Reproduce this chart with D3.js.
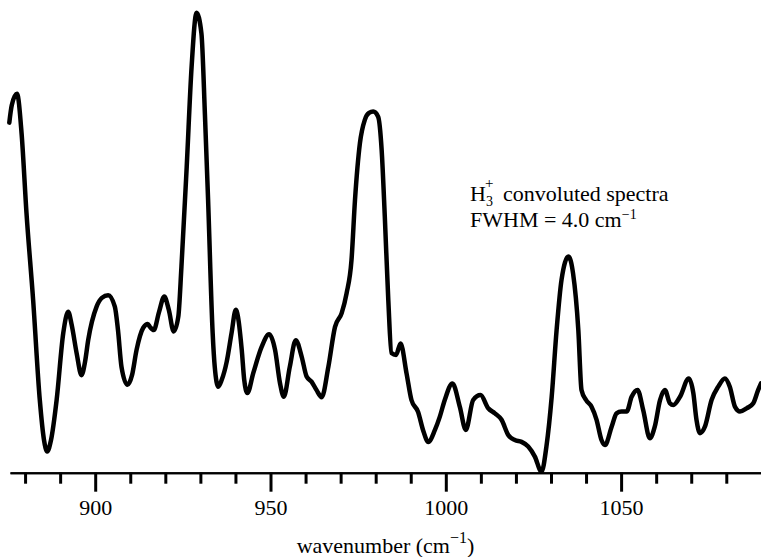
<!DOCTYPE html>
<html>
<head>
<meta charset="utf-8">
<script src="https://cdn.jsdelivr.net/npm/d3@7"></script>
<style>
  html, body { margin: 0; padding: 0; background: #fff; }
  svg { display: block; }
  svg text { fill: #000; }
</style>
</head>
<body>
<svg id="chart" width="761" height="557"></svg>
<script>
// Convoluted H3+ spectrum: wavenumber (cm^-1) vs. relative intensity (arb. units)
const wavenumber = [875.5, 876.2, 877.7, 879.0, 880.4, 882.3, 884.2, 885.4, 886.3, 887.4,
  889.0, 890.9, 892.3, 893.3, 894.7, 896.1, 897.1, 898.0, 900.4, 901.9,
  903.7, 905.6, 906.5, 907.5, 909.2, 910.5, 911.8, 913.7, 915.0, 915.6,
  916.7, 918.2, 919.7, 921.0, 922.4, 923.7, 924.6, 926.1, 927.5, 928.9,
  930.3, 931.3, 932.2, 933.5, 934.1, 935.1, 936.1, 937.5, 938.9, 940.1,
  941.8, 942.5, 943.4, 945.1, 947.5, 949.6, 951.3, 952.7, 953.8, 955.5,
  957.2, 958.9, 960.3, 961.7, 963.1, 964.6, 966.5, 968.4, 970.3, 971.7,
  973.1, 974.1, 975.5, 976.9, 978.1, 979.3, 980.7, 981.7, 982.6, 983.6,
  984.5, 985.8, 987.1, 988.8, 990.2, 992.1, 993.5, 995.0, 996.9, 998.3,
  999.7, 1001.9, 1004.0, 1005.7, 1007.8, 1009.9, 1012.1, 1014.0, 1015.9, 1017.8,
  1019.7, 1021.6, 1023.5, 1025.4, 1027.3, 1028.7, 1030.2, 1031.6, 1033.0, 1035.0,
  1036.3, 1037.8, 1038.7, 1040.0, 1041.6, 1043.0, 1044.4, 1045.4, 1047.3, 1048.7,
  1050.1, 1051.6, 1053.0, 1054.7, 1056.3, 1058.2, 1059.6, 1061.1, 1062.5, 1063.9,
  1064.9, 1066.8, 1069.3, 1070.6, 1071.5, 1072.5, 1073.9, 1075.8, 1077.7, 1079.6,
  1081.0, 1082.5, 1083.9, 1085.8, 1087.7, 1089.1, 1089.9];

const intensity = [76.1, 79.9, 82.4, 73.8, 56.5, 37.5, 15.8, 7.1, 4.6, 7.1,
  15.8, 30.4, 35.0, 32.1, 26.0, 21.2, 24.1, 28.8, 36.1, 38.0,
  38.6, 36.1, 31.0, 23.0, 19.1, 21.2, 26.7, 31.5, 32.3, 31.7,
  31.0, 34.9, 38.3, 35.4, 30.7, 33.9, 44.8, 66.5, 88.3, 100.0,
  95.5, 77.8, 59.3, 30.4, 23.0, 18.7, 20.2, 24.1, 30.4, 35.4,
  26.7, 20.2, 17.3, 21.7, 27.4, 30.1, 26.7, 19.5, 16.5, 23.0,
  28.8, 25.2, 20.9, 19.8, 18.0, 16.4, 23.0, 31.7, 34.7, 39.0,
  46.2, 59.3, 71.6, 76.7, 78.2, 78.5, 77.4, 70.2, 55.7, 37.5,
  26.0, 25.6, 28.1, 21.6, 15.8, 13.2, 9.3, 6.7, 9.3, 12.2,
  15.8, 19.4, 14.3, 9.3, 15.8, 16.9, 14.0, 12.9, 11.5, 8.2,
  7.1, 6.7, 5.7, 3.5, 0.2, 5.7, 16.5, 31.0, 41.9, 47.0,
  43.3, 31.0, 18.0, 15.8, 14.3, 11.5, 7.1, 6.0, 10.0, 12.9,
  13.3, 13.3, 16.5, 18.0, 13.6, 7.5, 10.0, 15.8, 18.0, 15.1,
  14.7, 16.5, 20.5, 17.3, 11.5, 8.6, 10.0, 15.8, 18.7, 20.5,
  18.7, 14.3, 13.3, 14.0, 15.1, 18.0, 19.4];

const majorTicks = [900, 950, 1000, 1050];
const minorTicks = [880, 890, 910, 920, 930, 940, 960, 970, 980, 990,
  1010, 1020, 1030, 1040, 1060, 1070, 1080];

const fontStack = "'Liberation Serif', 'Tinos', 'Times New Roman', 'DejaVu Serif', 'Noto Serif', serif";

const svg = d3.select("#chart");

const x = d3.scaleLinear().domain([875.7, 1089.9]).range([10, 761]);
const y = d3.scaleLinear().domain([0, 100]).range([472.7, 12.7]);

const points = wavenumber.map((w, i) => ({ w, v: intensity[i] }));

// spectrum trace
const line = d3.line()
  .x(d => x(d.w))
  .y(d => y(d.v))
  .curve(d3.curveMonotoneX);

svg.append("path")
  .datum(points)
  .attr("d", line)
  .attr("fill", "none")
  .attr("stroke", "#000")
  .attr("stroke-width", 4.5)
  .attr("stroke-linejoin", "round")
  .attr("stroke-linecap", "round");

// bottom axis: minor ticks every 10, labelled major ticks every 50
const axisY = y(0);
const minorAxis = d3.axisBottom(x)
  .tickValues(minorTicks)
  .tickSize(11)
  .tickSizeOuter(0)
  .tickFormat("");
const majorAxis = d3.axisBottom(x)
  .tickValues(majorTicks)
  .tickSize(19)
  .tickSizeOuter(0)
  .tickPadding(8)
  .tickFormat(d3.format("d"));

const gMinor = svg.append("g").attr("transform", `translate(0,${axisY})`).call(minorAxis);
const gMajor = svg.append("g").attr("transform", `translate(0,${axisY})`).call(majorAxis);

[gMinor, gMajor].forEach(g => {
  g.attr("font-family", fontStack);
  g.select(".domain").attr("stroke", "#000").attr("stroke-width", 2);
  g.selectAll(".tick line").attr("stroke", "#000").attr("stroke-width", 3);
});
gMajor.selectAll(".tick text")
  .attr("font-size", 22)
  .attr("fill", "#000");

// axis title
const title = svg.append("text")
  .attr("font-family", fontStack)
  .attr("x", 385.5)
  .attr("y", 553)
  .attr("text-anchor", "middle")
  .attr("font-size", 22);
title.append("tspan").text("wavenumber (cm");
title.append("tspan").attr("font-size", 16).attr("dy", -10).text("\u22121");
title.append("tspan").attr("dy", 10).text(")");

// annotation: H3+ label and FWHM
const ann = svg.append("g").attr("font-size", 22).attr("font-family", fontStack);
const h3 = ann.append("text").attr("x", 470).attr("y", 201);
h3.append("tspan").text("H");
h3.append("tspan").attr("font-size", 14).attr("dy", 5).text("3");
h3.append("tspan").attr("font-size", 15).attr("dx", -8).attr("dy", -18).text("+");
h3.append("tspan").attr("x", 503).attr("dy", 13).text("convoluted spectra");
const fw = ann.append("text").attr("x", 470).attr("y", 227);
fw.append("tspan").text("FWHM = 4.0 cm");
fw.append("tspan").attr("font-size", 14).attr("dy", -8).text("\u22121");
</script>
</body>
</html>
